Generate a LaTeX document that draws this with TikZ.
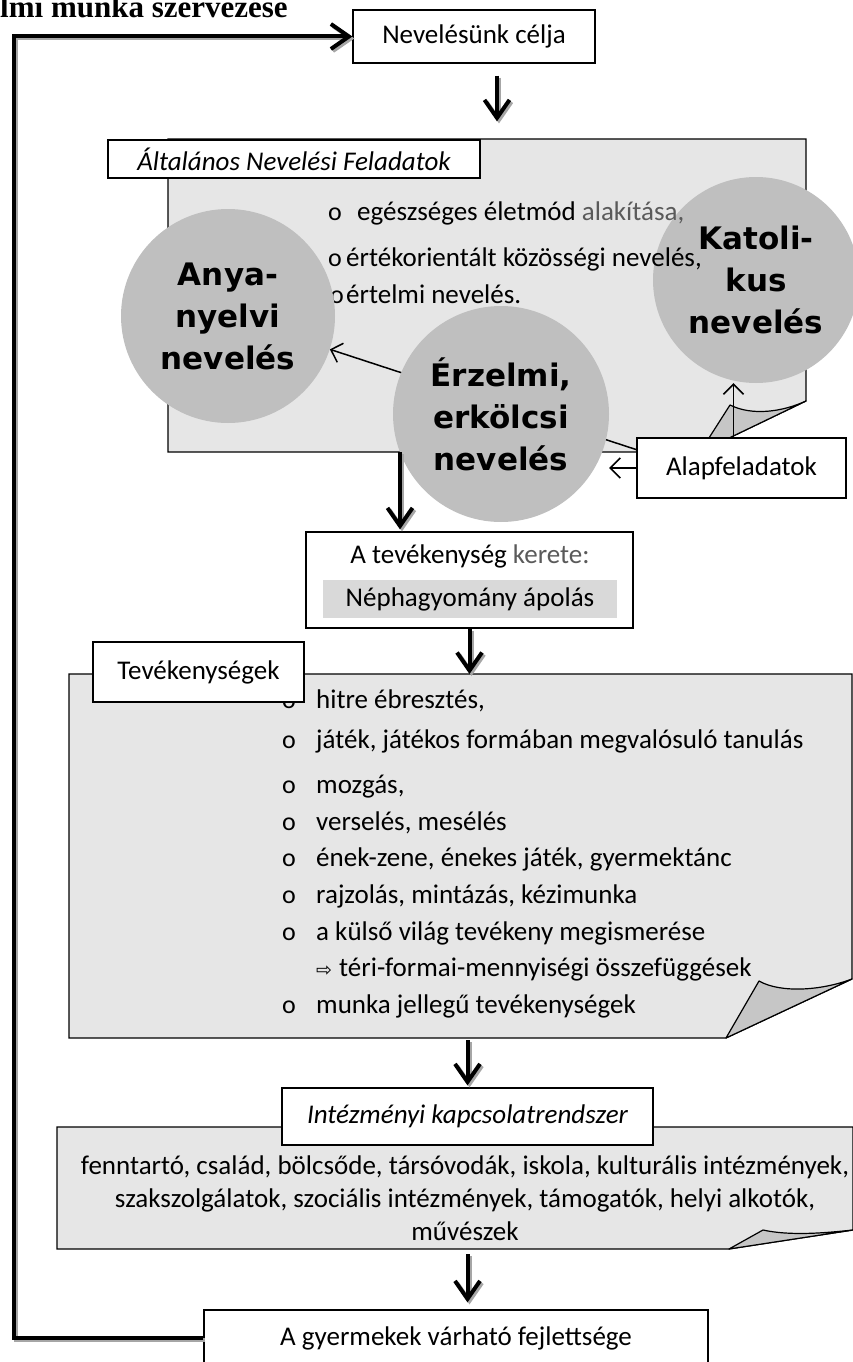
\documentclass[tikz,border=0pt]{standalone}
\usepackage{fontspec}
\setmainfont{Carlito}
\newfontfamily\discfont{DejaVu Sans}
\newfontfamily\headfont{Liberation Serif}
\usetikzlibrary{arrows.meta,positioning,calc}
\definecolor{paper}{HTML}{E6E6E6}
\definecolor{discgray}{HTML}{BFBFBF}
\definecolor{foldgray}{HTML}{C6C6C6}
\definecolor{bandgray}{HTML}{D9D9D9}
\definecolor{palegray}{HTML}{5A5A5A}
\tikzset{
    labelbox/.style={draw=black,fill=white,line width=1.2pt,inner sep=0pt,font=\fontsize{27}{32}\selectfont},
    panel/.style={draw=black,fill=paper,line width=1.2pt},
    corner/.style={draw=black,fill=foldgray,line width=1.2pt,line join=round},
    disc/.style={circle,fill=discgray,inner sep=0pt,align=center,font=\discfont\bfseries\fontsize{31}{42}\selectfont},
    flow/.style={line width=4pt,-{Straight Barb[length=18pt,width=25pt]}},
    flowshadow/.style={flow,draw=black!35,transform canvas={shift={(2pt,-2pt)}}},
    feed/.style={line width=1.5pt,-{Straight Barb[length=10pt,width=20pt]}},
    item/.style={anchor=base west,inner sep=0pt,font=\fontsize{27}{32}\selectfont},
    dot/.style={anchor=base west,inner sep=0pt,font=\fontsize{26}{30}\selectfont}
}
\begin{document}
\begin{tikzpicture}[x=1pt,y=-1pt]
\useasboundingbox (0,0) rectangle (853,1362);
\node[anchor=base west,inner sep=0pt,font=\headfont\bfseries\fontsize{31}{36}\selectfont] (title) at (0,18) {lmi munka szervezése};
% panels with turned corners
\draw[panel] (168,139)--(806,139)--(806,401)--(700,452)--(168,452)--cycle;
\draw[corner] (700,452)--(730,405)..controls(752,416)and(782,412)..(806,401)--cycle;
\draw[panel] (69,674)--(852,674)--(852,979)--(726,1038)--(69,1038)--cycle;
\draw[corner] (726,1038)--(759,981)..controls(780,993)and(820,991)..(852,979)--cycle;
\draw[panel] (57,1127)--(853,1127)--(853,1230)--(729,1249)--(57,1249)--cycle;
\draw[corner] (729,1249)--(763,1230)..controls(790,1236)and(825,1233)..(853,1230)--cycle;
\coordinate (pAout) at (400,452);
\coordinate (pBtop) at (0,674);
\coordinate (pBout) at (0,1038);
\coordinate (pCout) at (0,1249);
\coordinate (loopx) at (13.5,0);
% first panel
\node[disc,minimum size=206pt] (kat) at (756,280) {Katoli-\\kus\\nevelés};
\node[dot] (a1) at (328,220) {o};
\node[item] (t1) at (357,220) {egészséges életmód \textcolor{palegray}{alakítása,}};
\node[dot] (a2) at (328,266) {o};
\node[item] (t2) at (346,266) {értékorientált közösségi nevelés,};
\node[dot] (a3) at (330,303) {o};
\node[item] (t3) at (346,303) {értelmi nevelés.};
\node[labelbox,minimum width=209pt,minimum height=60pt] (alap) at (741.5,468) {Alapfeladatok};
\coordinate (alapw) at ($(alap.north west)!0.2!(alap.south west)$);
\coordinate (alapn) at ([xshift=-8pt]alap.north);
\node[disc,minimum size=214pt] (anya) at (228,316) {Anya-\\nyelvi\\nevelés};
\draw[feed] (alapw)--(anya);
\node[disc,minimum size=216pt] (erz) at (501,414) {Érzelmi,\\erkölcsi\\nevelés};
\draw[feed] (alap.west)--(alap.west -| erz.east);
\draw[feed] (alapn)--(alapn |- kat.south);
% boxes
\node[labelbox,minimum width=242pt,minimum height=53pt] (celja) at (474,36.5) {Nevelésünk célja};
\node[labelbox,minimum width=372pt,minimum height=38pt,font=\fontsize{27}{32}\selectfont\itshape] (alt) at (294,159) {Általános Nevelési Feladatok};
\node[labelbox,minimum width=327pt,minimum height=96pt] (kerete) at (469.5,580) {};
\node[inner sep=0pt,font=\fontsize{27}{32}\selectfont] (keretefej) at (470,556) {A tevékenység \textcolor{palegray}{kerete:}};
\node[fill=bandgray,minimum width=294pt,minimum height=38pt,inner sep=0pt,font=\fontsize{27}{32}\selectfont] (nephag) at (470,599) {Néphagyomány ápolás};
% second panel
\node[dot] (b1) at (282,708) {o};
\node[item] (s1) at (316,708) {hitre ébresztés,};
\node[dot] (b2) at (282,748) {o};
\node[item] (s2) at (316,748) {játék, játékos formában megvalósuló tanulás};
\node[dot] (b3) at (282,793) {o};
\node[item] (s3) at (316,793) {mozgás,};
\node[dot] (b4) at (282,830) {o};
\node[item] (s4) at (316,830) {verselés, mesélés};
\node[dot] (b5) at (282,866) {o};
\node[item] (s5) at (316,866) {ének-zene, énekes játék, gyermektánc};
\node[dot] (b6) at (282,903) {o};
\node[item] (s6) at (316,903) {rajzolás, mintázás, kézimunka};
\node[dot] (b7) at (282,940) {o};
\node[item] (s7) at (316,940) {a külső világ tevékeny megismerése};
\node[dot,font=\discfont\fontsize{19}{22}\selectfont] (b8) at (316,976) {⇨};
\node[item] (s8) at (339,976) {téri-formai-mennyiségi összefüggések};
\node[dot] (b9) at (282,1013) {o};
\node[item] (s9) at (316,1013) {munka jellegű tevékenységek};
\node[labelbox,minimum width=211pt,minimum height=60pt] (tev) at (198.5,672) {Tevékenységek};
% third panel
\node[inner sep=0pt,align=center,font=\fontsize{27}{33}\selectfont] (partner) at (465,1198) {fenntartó, család, bölcsőde, társóvodák, iskola, kulturális intézmények,\\szakszolgálatok, szociális intézmények, támogatók, helyi alkotók,\\művészek};
\node[labelbox,minimum width=371pt,minimum height=57pt,font=\fontsize{27}{32}\selectfont\itshape] (kapcs) at (467.5,1116.5) {Intézményi kapcsolatrendszer};
\node[labelbox,minimum width=504pt,text height=35pt,text depth=35pt] (gyerm) at (456,1345) {A gyermekek várható fejlettsége};
% main flow
\draw[flowshadow,shorten <=12pt,shorten >=18pt] ([xshift=23pt]celja.south)--([xshift=23pt]celja.south |- alt.north);
\draw[flow,shorten <=12pt,shorten >=18pt] ([xshift=23pt]celja.south)--([xshift=23pt]celja.south |- alt.north);
\draw[flowshadow,shorten >=2pt] (pAout)--(pAout |- kerete.north);
\draw[flow,shorten >=2pt] (pAout)--(pAout |- kerete.north);
\draw[flowshadow] (kerete.south)--(kerete.south |- pBtop);
\draw[flow] (kerete.south)--(kerete.south |- pBtop);
\draw[flowshadow,shorten <=2pt,shorten >=2pt] (kapcs.north |- pBout)--(kapcs.north);
\draw[flow,shorten <=2pt,shorten >=2pt] (kapcs.north |- pBout)--(kapcs.north);
\draw[flowshadow,shorten <=5pt,shorten >=7pt] (kapcs.north |- pCout)--(kapcs.north |- gyerm.north);
\draw[flow,shorten <=5pt,shorten >=7pt] (kapcs.north |- pCout)--(kapcs.north |- gyerm.north);
% feedback loop
\draw[flowshadow,line join=miter] ([yshift=7pt]gyerm.west)--([yshift=7pt]gyerm.west -| loopx)|-(celja.west);
\draw[flow,line join=miter] ([yshift=7pt]gyerm.west)--([yshift=7pt]gyerm.west -| loopx)|-(celja.west);
\end{tikzpicture}
\end{document}
